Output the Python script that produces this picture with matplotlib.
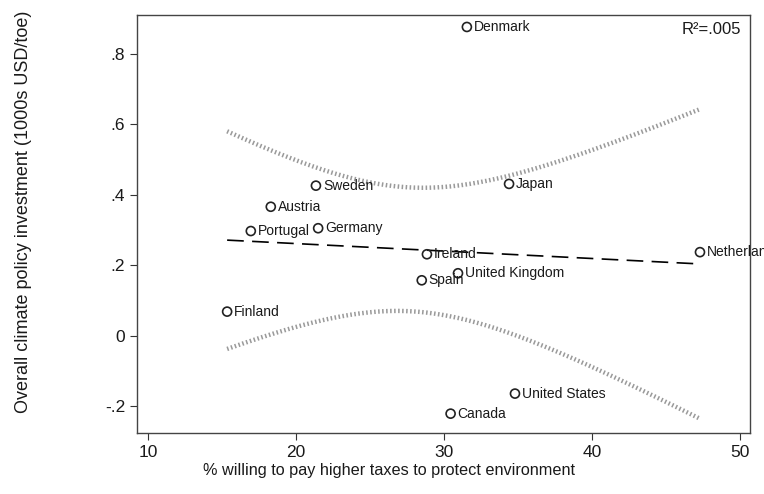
import numpy as np
import matplotlib
matplotlib.use("Agg")
import matplotlib.pyplot as plt

plt.rcParams['font.family'] = ['Liberation Sans', 'DejaVu Sans']

# values
countries = ['Denmark', 'Sweden', 'Japan', 'Austria', 'Portugal', 'Germany', 'Ireland',
             'Netherlands', 'United Kingdom', 'Spain', 'Finland', 'United States', 'Canada']
pct_taxes = [31.55, 21.35, 34.4, 18.3, 16.95, 21.5, 28.85, 47.3, 30.95, 28.5, 15.35, 34.8, 30.45]
investment = [0.877, 0.426, 0.431, 0.366, 0.297, 0.305, 0.231, 0.237, 0.177, 0.157, 0.068, -0.165, -0.222]

yticks = [-0.2, 0, 0.2, 0.4, 0.6, 0.8]
ytick_labels = ['-.2', '0', '.2', '.4', '.6', '.8']
xticks = [10, 20, 30, 40, 50]

x = np.array(pct_taxes)
y = np.array(investment)

# linear fit and 95% CI of the mean
n = len(x)
slope, icept = np.polyfit(x, y, 1)
resid = y - (icept + slope * x)
s = np.sqrt(np.sum(resid ** 2) / (n - 2))
xs = np.linspace(x.min(), x.max(), 200)
fit = icept + slope * xs
se = s * np.sqrt(1 / n + (xs - x.mean()) ** 2 / np.sum((x - x.mean()) ** 2))
t = 2.201
r2 = 1 - np.sum(resid ** 2) / np.sum((y - y.mean()) ** 2)

fig = plt.figure(figsize=(7.64, 4.94), dpi=100)
ax = fig.add_axes([137 / 764, 1 - 433 / 494, (750 - 137) / 764, (433 - 15) / 494])

ax.plot(xs, fit + t * se, color='#9a9a9a', lw=3.2, ls=(0, (0.35, 0.55)))
ax.plot(xs, fit - t * se, color='#9a9a9a', lw=3.2, ls=(0, (0.35, 0.55)))
ax.plot(xs, fit, color='black', lw=1.2, ls=(0, (10, 5)))

ax.scatter(x, y, s=42, facecolors='none', edgecolors='#222222', linewidths=1.2, zorder=3)
for name, xi, yi in zip(countries, x, y):
    ax.annotate(name, (xi, yi), xytext=(5, 0), textcoords='offset points',
                va='center', ha='left', fontsize=10, color='#1a1a1a',
                annotation_clip=False)

ax.text(0.985, 0.965, 'R²=' + f'{r2:.3f}'.lstrip('0'), transform=ax.transAxes,
        ha='right', va='center', fontsize=12, color='#1a1a1a')

ax.set_xlim(9.26, 50.68)
ax.set_ylim(-0.277, 0.911)
ax.set_xticks(xticks)
ax.set_yticks(yticks)
ax.set_yticklabels(ytick_labels)
ax.tick_params(labelsize=12.5, length=5, color='#333333', labelcolor='#1a1a1a')
for sp in ax.spines.values():
    sp.set_color('#444444')
    sp.set_linewidth(1.0)

fig.text(389 / 764, 1 - 470 / 494, '% willing to pay higher taxes to protect environment',
         ha='center', va='center', fontsize=11.7, color='#1a1a1a')
fig.text(24 / 764, 1 - 212 / 494, 'Overall climate policy investment (1000s USD/toe)',
         ha='center', va='center', rotation=90, fontsize=13, color='#1a1a1a')

fig.savefig('out.png', dpi=100)
